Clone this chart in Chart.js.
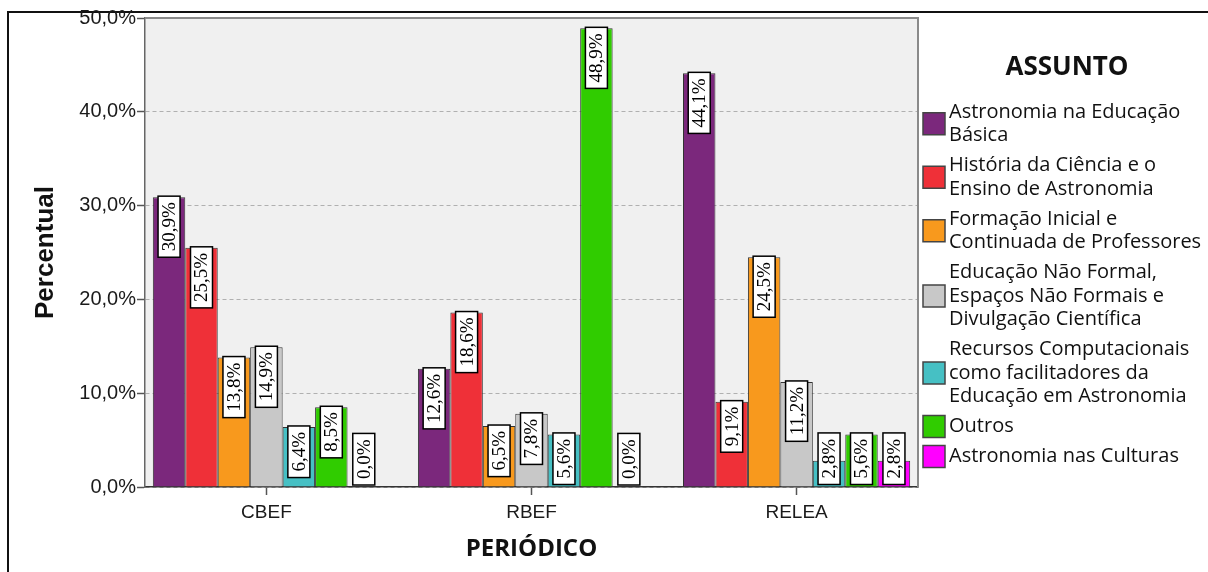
<!DOCTYPE html>
<html>
<head>
<meta charset="utf-8">
<script src="https://cdn.jsdelivr.net/npm/chart.js@4.4.1/dist/chart.umd.min.js"></script>
<style>
  html, body { margin: 0; padding: 0; background: #fff; }
  #wrap { position: relative; width: 1208px; height: 572px; overflow: hidden; }
  #frame { position: absolute; left: 7px; top: 11px; width: 1300px; height: 700px; border-left: 2px solid #111; border-top: 2px solid #111; }
  canvas { position: absolute; left: 0; top: 0; }
</style>
</head>
<body>
<div id="wrap">
  <div id="frame"></div>
  <canvas id="chartEl" width="1208" height="572"></canvas>
</div>
<script>
const periodicos = ['CBEF', 'RBEF', 'RELEA']

// nomes dos assuntos, quebrados em linhas como na legenda
const assuntos = [
  ['Astronomia na Educação', 'Básica'],
  ['História da Ciência e o', 'Ensino de Astronomia'],
  ['Formação Inicial e', 'Continuada de Professores'],
  ['Educação Não Formal,', 'Espaços Não Formais e', 'Divulgação Científica'],
  ['Recursos Computacionais', 'como facilitadores da', 'Educação em Astronomia'],
  ['Outros'],
  ['Astronomia nas Culturas']
]
const cores = ['#7b287c', '#ef3038', '#f8991d', '#c8c8c8', '#46c0c4', '#30cc00', '#ff00ff']

// percentuais por assunto (ordem: CBEF, RBEF, RELEA)
const eduBasica = [30.9, 12.6, 44.1]
const historia = [25.5, 18.6, 9.1]
const formacao = [13.8, 6.5, 24.5]
const naoFormal = [14.9, 7.8, 11.2]
const recursos = [6.4, 5.6, 2.8]
const outros = [8.5, 48.9, 5.6]
const culturas = [0.0, 0.0, 2.8]
const series = [eduBasica, historia, formacao, naoFormal, recursos, outros, culturas]

const yTicks = [0, 10, 20, 30, 40, 50]

const fmt = v => v.toFixed(1).replace('.', ',') + '%'

/* Fundo cinza e moldura da área do gráfico */
const plotBg = {
  id: 'plotBg',
  beforeDraw(chart) {
    const { ctx, chartArea: a } = chart
    ctx.save()
    ctx.fillStyle = '#f0f0f0'
    ctx.fillRect(a.left, a.top, a.right - a.left, a.bottom - a.top)
    ctx.restore()
  },
  afterDatasetsDraw(chart) {
    const { ctx, chartArea: a } = chart
    ctx.save()
    ctx.strokeStyle = '#8a8a8a'
    ctx.lineWidth = 2
    ctx.beginPath()
    ctx.moveTo(a.left, a.top)
    ctx.lineTo(a.right, a.top)
    ctx.lineTo(a.right, a.bottom)
    ctx.stroke()
    ctx.restore()
  }
}

/* Rótulos em caixa branca, texto vertical */
const barLabels = {
  id: 'barLabels',
  afterDatasetsDraw(chart) {
    const ctx = chart.ctx
    ctx.save()
    ctx.font = '19px "Liberation Serif"'
    chart.data.datasets.forEach((ds, di) => {
      chart.getDatasetMeta(di).data.forEach((bar, i) => {
        const txt = fmt(ds.data[i].y)
        const h = ctx.measureText(txt).width + 12
        const w = 22
        const top = Math.min(bar.y - 1, bar.base - 2 - h)
        ctx.fillStyle = '#fff'
        ctx.fillRect(bar.x - w / 2, top, w, h)
        ctx.strokeStyle = '#000'
        ctx.lineWidth = 1.5
        ctx.strokeRect(bar.x - w / 2, top, w, h)
        ctx.save()
        ctx.translate(bar.x + 1, top + h / 2)
        ctx.rotate(-Math.PI / 2)
        ctx.fillStyle = '#000'
        ctx.textAlign = 'center'
        ctx.textBaseline = 'middle'
        ctx.fillText(txt, 0, 0)
        ctx.restore()
      })
    })
    ctx.restore()
  }
}

/* Legenda à direita com rótulos em várias linhas */
const legendBox = {
  id: 'legendBox',
  afterDraw(chart) {
    const ctx = chart.ctx
    const x0 = chart.chartArea.right + 5
    const lineH = 23.5, gap = 30
    ctx.save()
    ctx.fillStyle = '#111'
    ctx.font = 'bold 26px "Open Sans"'
    ctx.textAlign = 'center'
    ctx.textBaseline = 'middle'
    ctx.fillText('ASSUNTO', 1067, 68)
    ctx.font = '20px "Open Sans"'
    ctx.textAlign = 'left'
    let y = 112
    chart.data.datasets.forEach((ds, i) => {
      const lines = assuntos[i]
      const mid = y + (lines.length - 1) * lineH / 2
      ctx.fillStyle = ds.backgroundColor
      ctx.fillRect(x0, mid - 11, 22, 22)
      ctx.strokeStyle = '#444'
      ctx.lineWidth = 1.5
      ctx.strokeRect(x0, mid - 11, 22, 22)
      ctx.fillStyle = '#111'
      lines.forEach((l, k) => ctx.fillText(l, x0 + 26, y + k * lineH))
      y += (lines.length - 1) * lineH + gap
    })
    ctx.restore()
  }
}

Chart.defaults.font.family = '"Liberation Sans", Arial, sans-serif'
Chart.defaults.color = '#222'

new Chart(document.querySelector('#chartEl'), {
  type: 'bar',
  data: {
    datasets: series.map((vals, i) => ({
      label: assuntos[i].join(' '),
      data: vals.map((v, k) => ({ x: k, y: v })),
      backgroundColor: cores[i],
      borderColor: '#333',
      borderWidth: 1,
      barPercentage: 1,
      categoryPercentage: 0.857
    }))
  },
  options: {
    responsive: false,
    animation: false,
    events: [],
    layout: { padding: { left: 26, right: 290, top: 18, bottom: 0 } },
    plugins: { legend: { display: false }, tooltip: { enabled: false } },
    scales: {
      x: {
        type: 'linear',
        min: -0.458,
        max: 2.458,
        offset: false,
        grid: { offset: false, drawOnChartArea: false, drawTicks: true, tickLength: 8, tickColor: '#555', tickWidth: 1.5 },
        border: { color: '#333', width: 1.5 },
        ticks: {
          stepSize: 1,
          includeBounds: false,
          padding: 6,
          maxRotation: 0,
          autoSkip: false,
          font: { size: 19 },
          color: '#1a1a1a',
          callback: v => periodicos[v] ?? ''
        },
        title: { display: true, text: 'PERIÓDICO', font: { family: '"Open Sans"', size: 24, weight: 'bold' }, color: '#111', padding: { top: 4, bottom: 8 } },
        afterFit: s => { s.height = 85 }
      },
      y: {
        min: 0,
        max: 50,
        afterBuildTicks: s => { s.ticks = yTicks.map(v => ({ value: v })) },
        grid: { color: '#b0b0b0', lineWidth: 1, tickLength: 8, tickColor: '#555', tickWidth: 1.5, tickBorderDash: [] },
        border: { color: '#666', width: 1.5, dash: [4, 3] },
        ticks: { padding: 1, font: { size: 20 }, color: '#1a1a1a', callback: v => fmt(v) },
        title: { display: true, text: 'Percentual', font: { size: 26, weight: 'bold' }, color: '#111', padding: { top: 4, bottom: 4 } },
        afterFit: s => { s.width = 119 }
      }
    }
  },
  plugins: [plotBg, barLabels, legendBox]
})
</script>
</body>
</html>
